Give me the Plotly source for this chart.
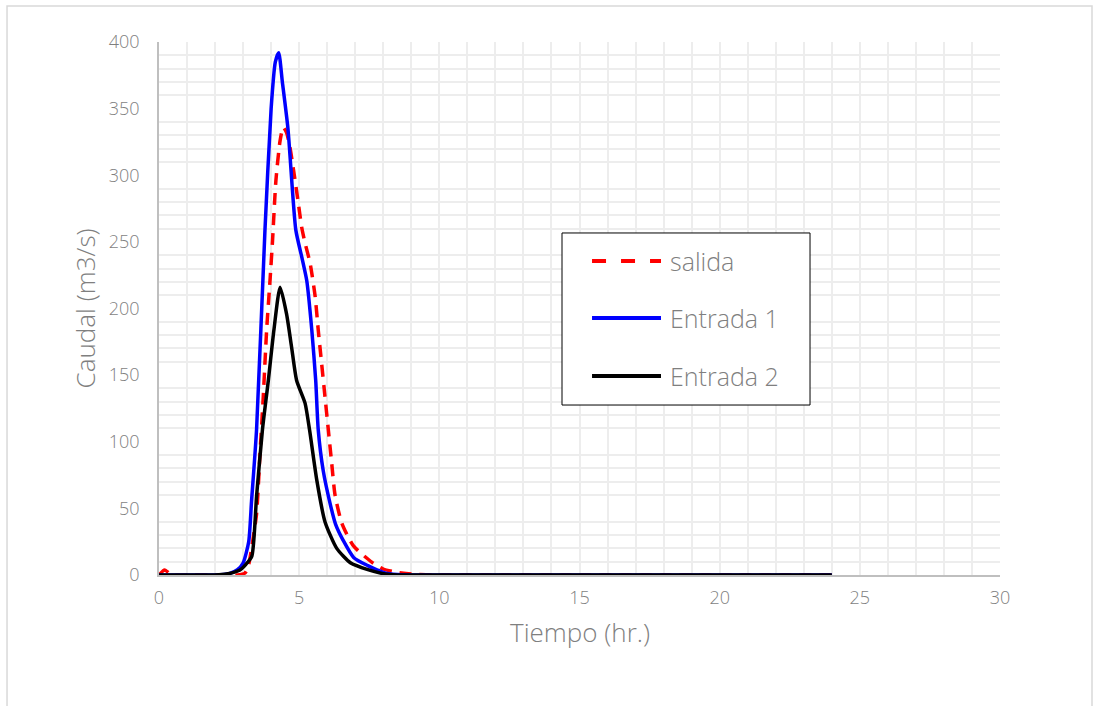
import plotly.graph_objects as go

# Hidrogramas: caudal (m3/s) en función del tiempo (hr.)
t_salida = [0, 0.2, 0.45, 1, 2, 2.8, 3.07, 3.2, 3.31, 3.48, 3.6, 3.72, 3.84, 3.96, 4.05,
            4.17, 4.32, 4.43, 4.55, 4.67, 4.82, 4.97, 5.09, 5.2, 5.39, 5.57, 5.68, 5.8,
            5.92, 6.04, 6.16, 6.28, 6.52, 6.93, 7.6, 8.0, 8.5, 9.0, 10, 12, 15, 18, 21, 24]
q_salida = [0, 3.8, 0, 0, 0, 0, 1.5, 8, 21, 46, 90, 134, 184, 221, 251,
            296, 326, 336, 332, 321, 301, 279, 261, 250, 234, 209, 184, 159,
            134, 109, 84, 60, 39, 22, 9.5, 4.5, 2, 0.7, 0, 0, 0, 0, 0, 0]

t_entrada1 = [0, 1, 2, 2.5, 2.8, 3.0, 3.2, 3.3, 3.48, 3.78, 4.0, 4.15, 4.27, 4.4, 4.6,
              4.88, 5.1, 5.27, 5.45, 5.59, 5.68, 5.86, 6.1, 6.3, 6.57, 6.95, 7.45, 8.0,
              8.5, 9, 12, 15, 18, 21, 24]
q_entrada1 = [0, 0, 0, 1, 4, 9, 25, 55, 109, 259, 350, 385, 392, 370, 335,
              259, 238, 221, 184, 146, 109, 78, 54, 38, 26, 13, 7, 2,
              0.3, 0, 0, 0, 0, 0, 0]

t_entrada2 = [0, 1, 2, 2.41, 2.89, 3.1, 3.31, 3.48, 3.69, 3.9, 4.1, 4.32, 4.55, 4.73,
              4.91, 5.21, 5.37, 5.63, 5.92, 6.34, 6.84, 7.45, 8.0, 8.5, 9, 12, 15, 18, 21, 24]
q_entrada2 = [0, 0, 0, 0.7, 3.8, 8, 14, 59, 109, 146, 184, 216, 196, 171,
              146, 129, 109, 71, 40, 20, 9, 4, 1, 0, 0, 0, 0, 0, 0, 0]

series = [
    ("salida", t_salida, q_salida, "#ff0000", "12px,8px"),
    ("Entrada 1", t_entrada1, q_entrada1, "#0000ff", "solid"),
    ("Entrada 2", t_entrada2, q_entrada2, "#000000", "solid"),
]

x_ticks = [0, 5, 10, 15, 20, 25, 30]
y_ticks = [0, 50, 100, 150, 200, 250, 300, 350, 400]

FONT = "Open Sans"
WEIGHT = 300
GRAY = "#7f7f7f"
GRID = "#ededed"

fig = go.Figure()
for name, t, q, color, dash in series:
    fig.add_trace(go.Scatter(
        x=t, y=q, mode="lines", name=name,
        line=dict(color=color, width=3.5, dash=dash, shape="spline", smoothing=0.6),
        showlegend=False,
    ))

tick_font = dict(size=18, color=GRAY, family=FONT, weight=WEIGHT)

fig.update_layout(
    width=1099, height=706,
    margin=dict(l=159, r=99, t=42, b=131),
    paper_bgcolor="white", plot_bgcolor="white",
    font=dict(family=FONT, color=GRAY),
    xaxis=dict(
        range=[0, 30], tickvals=x_ticks, ticktext=[str(v) for v in x_ticks],
        showgrid=True, gridcolor=GRID, gridwidth=1.5,
        minor=dict(dtick=1, showgrid=True, gridcolor=GRID, gridwidth=1.5),
        showline=True, linecolor="#bfbfbf", linewidth=1.5,
        zeroline=False, ticks="", ticklabelstandoff=6,
        tickfont=tick_font,
    ),
    yaxis=dict(
        range=[0, 400], tickvals=y_ticks, ticktext=[str(v) for v in y_ticks],
        showgrid=False,
        minor=dict(tickvals=[v for v in range(0, 401, 10) if v % 50], showgrid=True,
                   gridcolor=GRID, gridwidth=1.5),
        showline=True, linecolor="#bfbfbf", linewidth=1.5,
        zeroline=False, ticks="", ticklabelstandoff=14,
        tickfont=tick_font,
    ),
)

# Títulos de los ejes
title_font = dict(size=26, color=GRAY, family=FONT, weight=WEIGHT)
fig.add_annotation(text="Tiempo (hr.)", xref="paper", yref="paper",
                   x=0.5, y=-0.107, xanchor="center", yanchor="middle",
                   showarrow=False, font=title_font)
fig.add_annotation(text="Caudal (m3/s)", xref="paper", yref="paper",
                   x=-0.088, y=0.5, xanchor="center", yanchor="middle", textangle=-90,
                   showarrow=False, font=title_font)

# Marco exterior del gráfico
fig.add_shape(type="rect", xref="paper", yref="paper",
              x0=-0.1807, x1=1.1094, y0=-0.26, y1=1.0675,
              line=dict(color="#d9d9d9", width=1.5), fillcolor="rgba(0,0,0,0)", layer="below")

# Leyenda
fig.add_shape(type="rect", xref="paper", yref="paper",
              x0=0.4792, x1=0.7741, y0=0.3189, y1=0.6417,
              line=dict(color="#000000", width=1), fillcolor="white", layer="above")
legend_rows = [0.5891, 0.4822, 0.3734]
for (name, t, q, color, dash), yrow in zip(series, legend_rows):
    fig.add_shape(type="line", xref="paper", yref="paper",
                  x0=0.5149, x1=0.5969, y0=yrow, y1=yrow,
                  line=dict(color=color, width=4, dash="14px,15px" if dash != "solid" else "solid"),
                  layer="above")
    fig.add_annotation(text=name, xref="paper", yref="paper",
                       x=0.6052, y=yrow, xanchor="left", yanchor="middle",
                       showarrow=False, font=dict(size=25, color=GRAY, family=FONT, weight=WEIGHT))

fig.write_html("out.html")
